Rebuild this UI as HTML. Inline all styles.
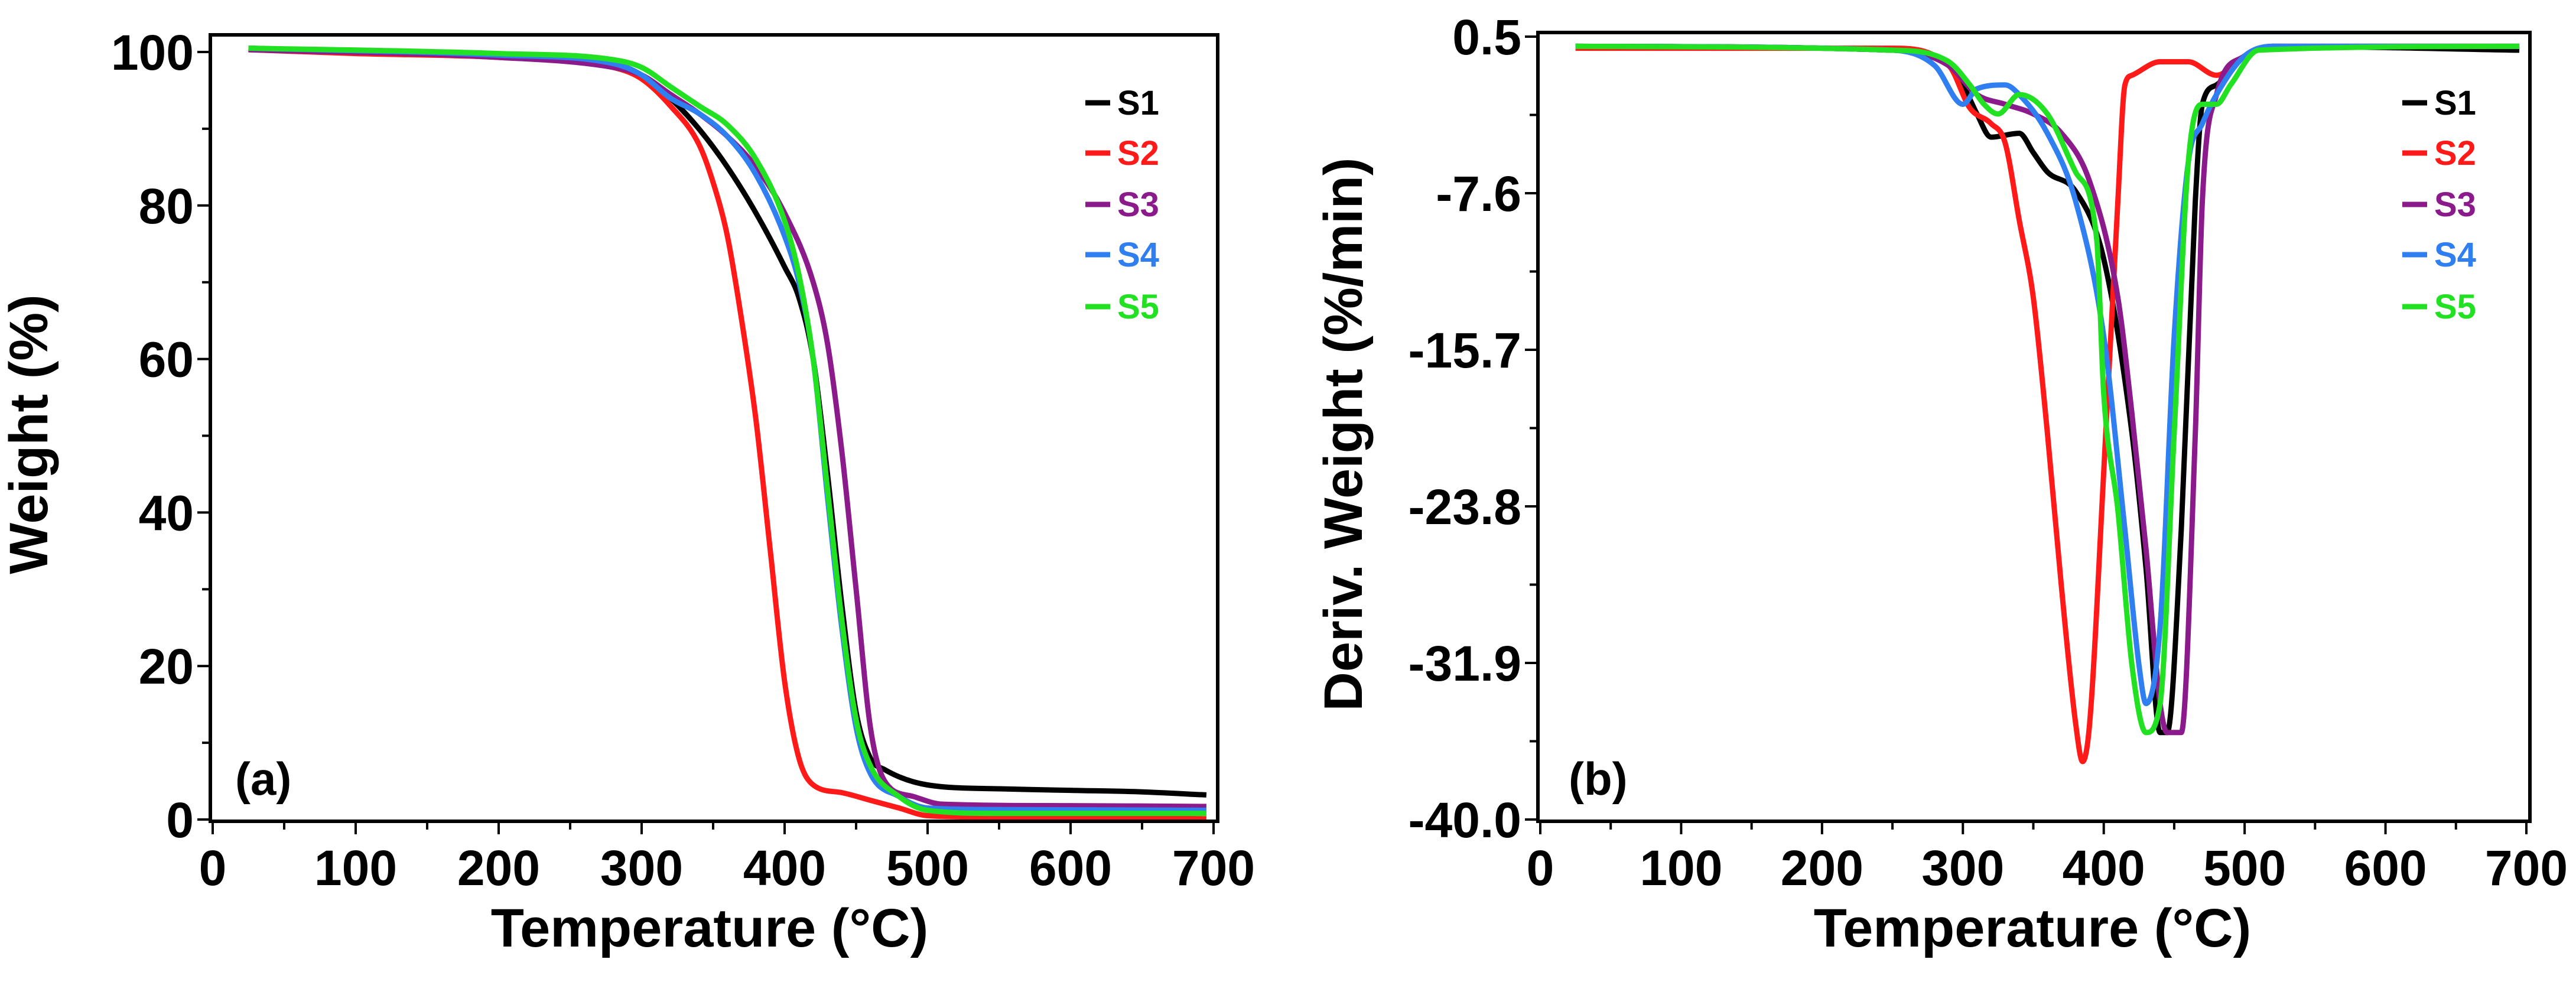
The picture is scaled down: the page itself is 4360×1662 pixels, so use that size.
<!DOCTYPE html>
<html><head><meta charset="utf-8"><style>
html,body{margin:0;padding:0;background:#fff}
svg{display:block}
text{font-family:"Liberation Sans",Arial,sans-serif;font-weight:bold}
</style></head><body>
<svg id="c" width="4360" height="1662" viewBox="0 0 4360 1662" xmlns="http://www.w3.org/2000/svg"></svg>
<script>
const series = ["S1","S2","S3","S4","S5"];
const colors = ["#000000","#ff1a1a","#8b1a8b","#2f7ff0","#22e022"];
const xTicks = [0,100,200,300,400,500,600,700];
const yTicksA = [0,20,40,60,80,100];
const yTicksB = [0.5,-7.6,-15.7,-23.8,-31.9,-40.0];
const yTickLabelsB = ["0.5","-7.6","-15.7","-23.8","-31.9","-40.0"];
const tgaS1 = [[25,100.5],[100,100],[200,99.5],[280,98.5],[300,97],[320,94],[340,90],[360,85],[380,79],[400,72],[410,68],[420,60],[430,45],[440,28],[450,14],[460,8],[470,6.5],[500,4.5],[550,4],[600,3.8],[650,3.6],[695,3.2]];
const tgaS2 = [[25,100.3],[100,99.8],[200,99.3],[280,98],[300,96.5],[320,93],[340,88],[350,83],[360,76],[370,65],[380,52],[390,35],[400,18],[410,8],[420,4.5],[440,3.5],[460,2.5],[480,1.5],[500,0.5],[550,0.3],[695,0.1]];
const tgaS3 = [[25,100.3],[200,99.3],[280,98],[300,97],[320,94.5],[340,92],[360,89],[380,85],[400,79],[420,70],[430,62],[440,48],[450,30],[460,12],[470,5],[490,3],[510,2],[600,1.8],[695,1.7]];
const tgaS4 = [[25,100.5],[200,99.6],[280,98.5],[300,97],[320,94],[340,92],[360,89],[380,84],[400,76],[410,70],[420,60],[430,42],[440,25],[450,12],[460,6],[480,3],[500,1.5],[550,1.3],[695,1.2]];
const tgaS5 = [[25,100.5],[200,99.8],[280,99],[300,98],[320,95.5],[340,93],[360,90.5],[380,86],[400,78],[410,71],[420,60],[430,43],[440,26],[450,13],[460,7],[480,3],[500,1.2],[550,0.8],[695,0.8]];
const dtgS1 = [[25,0],[250,-0.2],[290,-1],[300,-2],[310,-3.5],[320,-4.7],[340,-4.5],[350,-5.5],[360,-6.5],[380,-7.5],[400,-11],[420,-20],[430,-27],[440,-35.5],[445,-35.5],[455,-25],[465,-8],[470,-3],[480,-2],[500,-0.5],[520,0],[695,-0.2]];
const dtgS2 = [[25,-0.1],[250,-0.1],[290,-1],[305,-3.2],[320,-4],[330,-5],[340,-9],[350,-13],[360,-20],[370,-28],[380,-35],[385,-37],[390,-35],[400,-22],[410,-8],[415,-2],[420,-1.5],[440,-0.8],[460,-0.8],[480,-1.5],[500,-0.5],[520,0],[695,0]];
const dtgS3 = [[25,0],[250,-0.2],[290,-1],[310,-2.5],[330,-3],[350,-3.5],[370,-4.5],[390,-7],[410,-13],[420,-19],[430,-26],[440,-34],[445,-35.5],[455,-35.5],[465,-20],[470,-8],[480,-2.5],[500,-0.5],[520,0],[695,0]];
const dtgS4 = [[25,0],[250,-0.2],[280,-1],[300,-3],[310,-2.2],[330,-2],[340,-2.5],[360,-4.5],[380,-8],[400,-15],[415,-25],[425,-32],[430,-34],[440,-30],[450,-15],[460,-6],[470,-4],[480,-2.5],[500,-0.5],[520,0],[695,0]];
const dtgS5 = [[25,0],[250,-0.2],[290,-0.8],[305,-2],[315,-3],[325,-3.5],[340,-2.5],[360,-3.5],[380,-6.5],[395,-10],[400,-18],[410,-24],[420,-32],[430,-35.5],[440,-34],[450,-20],[460,-6],[470,-3],[480,-3],[490,-2],[510,-0.2],[695,0]];

const NS="http://www.w3.org/2000/svg";
const svg=document.getElementById('c');
function mk(tag,attrs,parent,txt){const e=document.createElementNS(NS,tag);for(const k in attrs)e.setAttribute(k,attrs[k]);if(txt!==undefined)e.textContent=txt;(parent||svg).appendChild(e);return e;}

// monotone cubic path through pixel points
function monoPath(P){
  const n=P.length;if(n<2)return '';
  const dx=[],m=[],t=new Array(n);
  for(let i=0;i<n-1;i++){dx[i]=P[i+1][0]-P[i][0];m[i]=(P[i+1][1]-P[i][1])/dx[i];}
  t[0]=m[0];t[n-1]=m[n-2];
  for(let i=1;i<n-1;i++){t[i]=(m[i-1]*m[i]<=0)?0:(m[i-1]+m[i])/2;}
  for(let i=0;i<n-1;i++){
    if(m[i]===0){t[i]=0;t[i+1]=0;continue;}
    const a=t[i]/m[i],b=t[i+1]/m[i],s=a*a+b*b;
    if(s>9){const k=3/Math.sqrt(s);t[i]=k*a*m[i];t[i+1]=k*b*m[i];}
  }
  let d='M'+P[0][0].toFixed(1)+','+P[0][1].toFixed(1);
  for(let i=0;i<n-1;i++){
    const h=dx[i]/3;
    d+=' C'+(P[i][0]+h).toFixed(1)+','+(P[i][1]+t[i]*h).toFixed(1)+' '+(P[i+1][0]-h).toFixed(1)+','+(P[i+1][1]-t[i+1]*h).toFixed(1)+' '+P[i+1][0].toFixed(1)+','+P[i+1][1].toFixed(1);
  }
  return d;
}

function panel(cfg){
  const g=mk('g',{});
  
  
  const sx=v=>cfg.x0+(v-0)/(700-0)*(cfg.x1-cfg.x0);
  const sy=v=>cfg.y0+(v-cfg.ymax)/(cfg.ymin-cfg.ymax)*(cfg.y1-cfg.y0);
  cfg.data.forEach((d,i)=>{
    const p=mk('path',{d:monoPath(d.map(q=>[sx(q[0]),sy(q[1])])),fill:'none',stroke:colors[i],'stroke-width':9,'stroke-linejoin':'round'},g);
    
    
  });
  const f=mk('rect',{x:cfg.fx0,y:cfg.fy0,width:cfg.fx1-cfg.fx0,height:cfg.fy1-cfg.fy0,fill:'none',stroke:'#000','stroke-width':6},g);
  
  
  for(let v=0;v<=700;v+=50){
    mk('line',{x1:sx(v),x2:sx(v),y1:cfg.fy1,y2:cfg.fy1+(v%100===0?22:14),stroke:'#000','stroke-width':4},g);
  }
  xTicks.forEach(v=>{
    const t=mk('text',{x:sx(v),y:cfg.fy1+108,'font-size':84,'text-anchor':'middle'},g,String(v));
    
    
  });
  cfg.yt.forEach((v,i)=>{
    mk('line',{x1:cfg.fx0-22,x2:cfg.fx0,y1:sy(v),y2:sy(v),stroke:'#000','stroke-width':4},g);
    const t=mk('text',{x:cfg.fx0-28,y:sy(v)+30,'font-size':84,'text-anchor':'end'},g,cfg.yl[i]);
    
    
  });
  cfg.minorY.forEach(v=>mk('line',{x1:cfg.fx0-14,x2:cfg.fx0,y1:sy(v),y2:sy(v),stroke:'#000','stroke-width':4},g));
  const xt=mk('text',{x:cfg.xtx,y:1602,'font-size':92,'text-anchor':'middle'},g,'Temperature (°C)');
  
  
  const yt=mk('text',{x:0,y:0,'font-size':92,'text-anchor':'middle',transform:`translate(${cfg.ytx},735) rotate(-90)`},g,cfg.ytitle);
  
  
  const lab=mk('text',{x:cfg.labx,y:1345,'font-size':78,'font-weight':'normal'},g,cfg.label);
  
  
  const ly=[174,259,346,431,519];
  series.forEach((s,i)=>{
    const lg=mk('g',{},g);
    
    
    mk('line',{x1:cfg.lgx,x2:cfg.lgx+42,y1:ly[i],y2:ly[i],stroke:colors[i],'stroke-width':9},lg);
    mk('text',{x:cfg.lgx+54,y:ly[i]+20,'font-size':58,fill:colors[i]},lg,s);
  });
}
panel({name:'panel-a-tga',x0:360,x1:2054,y0:88,y1:1387,ymax:100,ymin:0,fx0:356,fx1:2061,fy0:59,fy1:1390,
  data:[tgaS1,tgaS2,tgaS3,tgaS4,tgaS5],yt:yTicksA,yl:yTicksA.map(String),minorY:[10,30,50,70,90],
  xtx:1201,ytx:80,ytitle:'Weight  (%)',label:'(a)',labx:398,lgx:1837});
panel({name:'panel-b-dtg',x0:2607,x1:4276,y0:62,y1:1387,ymax:0.5,ymin:-40,fx0:2603,fx1:4282,fy0:55,fy1:1390,
  data:[dtgS1,dtgS2,dtgS3,dtgS4,dtgS5],yt:yTicksB,yl:yTickLabelsB,minorY:[-3.55,-11.65,-19.75,-27.85,-35.95],
  xtx:3440,ytx:2305,ytitle:'Deriv. Weight (%/min)',label:'(b)',labx:2655,lgx:4066});
</script>
</body></html>
